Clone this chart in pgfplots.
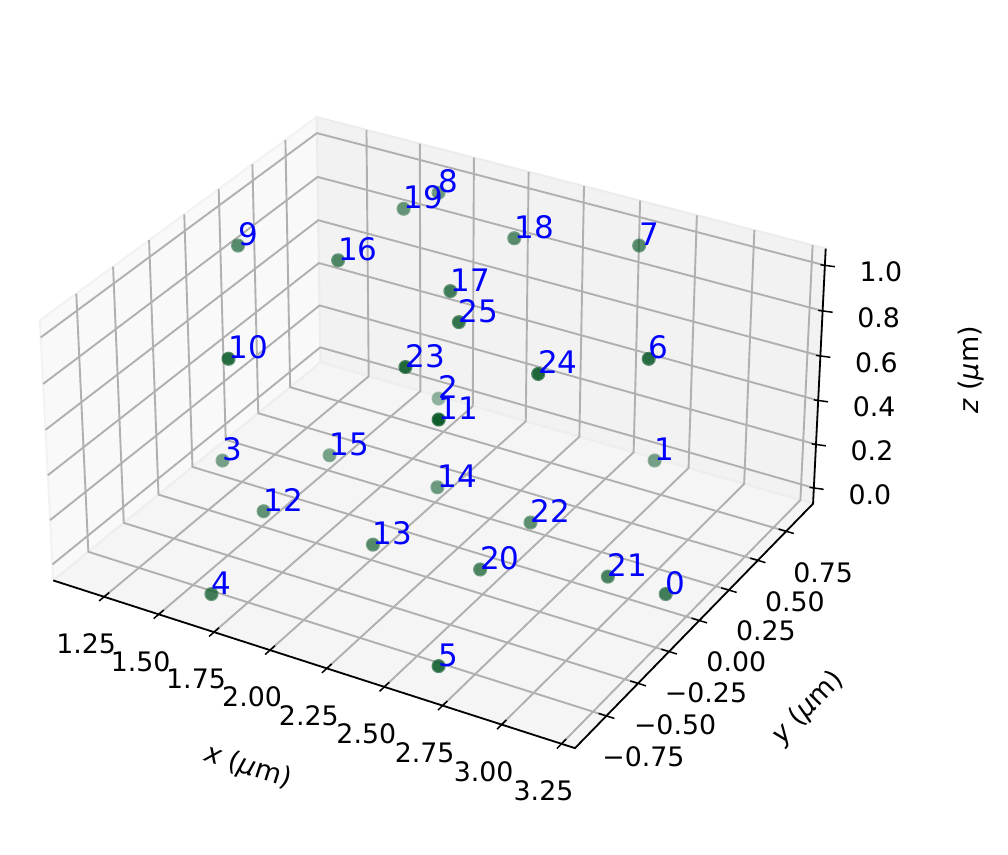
\documentclass[border=0pt]{standalone}
\usepackage{fontspec}
\setmainfont{DejaVu Sans}
\usepackage{pgfplots}
\usepackage{pgfplotstable}
\pgfplotsset{compat=1.18}
\definecolor{ptgreen}{RGB}{15,92,45}
\definecolor{gridc}{RGB}{176,176,176}
\pgfdeclareplotmark{rimdot}{%
  \pgfpathcircle{\pgfpointorigin}{6.0pt}\pgfusepathqfill
  \pgfsetstrokeopacity{\alb}\pgfsetlinewidth{1.2pt}%
  \pgfpathcircle{\pgfpointorigin}{6.5pt}\pgfusepathqstroke}
\pgfplotsset{table/P/.style={
  x expr={pu(\thisrow{x},\thisrow{y},\thisrow{z})},
  y expr={pv(\thisrow{x},\thisrow{y},\thisrow{z})}}}
\pgfplotstableread{
x y z a lab
3.16 0 0 .724 0
2.66 .866 0 .441 1
1.66 .866 0 .30 2
1.16 0 0 .441 3
1.66 -.866 0 .724 4
2.66 -.866 0 .865 5
3.06 0 1 .873 6
2.61 .779 1 .619 7
1.71 .779 1 .491 8
1.26 0 1 .619 9
1.71 -.779 1 .873 10
2.61 -.779 1 1.0 11
1.51 -.25 0 .552 12
2.01 -.25 0 .623 13
2.01 .25 0 .50 14
1.51 .25 0 .43 15
1.66 .09 1 .653 16
2.16 .09 1 .724 17
2.16 .59 1 .601 18
1.66 .59 1 .531 19
2.46 -.2 0 .674 20
2.91 0 0 .689 21
2.46 .2 0 .576 22
2.31 -.505 1 .89 23
2.76 -.305 1 .905 24
2.31 -.107 1 .793 25
}\pts
\pgfplotstableread{
x y z lab
1.25 -.9923 -.0729 1.25
1.50 -.9923 -.0729 1.50
1.75 -.9923 -.0729 1.75
2.00 -.9923 -.0729 2.00
2.25 -.9923 -.0729 2.25
2.50 -.9923 -.0729 2.50
2.75 -.9923 -.0729 2.75
3.00 -.9923 -.0729 3.00
3.25 -.9923 -.0729 3.25
}\xlabs
\pgfplotstableread{
x y z lab
3.3058 -.75 -.0729 −0.75
3.3058 -.50 -.0729 −0.50
3.3058 -.25 -.0729 −0.25
3.3058 0 -.0729 0.00
3.3058 .25 -.0729 0.25
3.3058 .50 -.0729 0.50
3.3058 .75 -.0729 0.75
}\ylabs
\pgfplotstableread{
x y z lab
3.3058 .9923 0 0.0
3.3058 .9923 .2 0.2
3.3058 .9923 .4 0.4
3.3058 .9923 .6 0.6
3.3058 .9923 .8 0.8
3.3058 .9923 1 1.0
}\zlabs
\begin{document}
\begin{tikzpicture}
\path[use as bounding box] (0,0) rectangle (1008pt,854pt);
\begin{axis}[
  at={(0,0)}, anchor=south west, scale only axis, width=1008pt, height=854pt,
  xmin=0, xmax=1008, ymin=0, ymax=854, hide axis, clip=false,
  declare function={
    pw(\x,\y,\z)=10-(0.25461*(\x-2.16)-0.441*\y+0.294*(\z-0.5));
    pu(\x,\y,\z)=438.6+4413*(0.50921*(\x-2.16)+0.294*\y)/pw(\x,\y,\z);
    pv(\x,\y,\z)=439.1+4413*(-0.147*(\x-2.16)+0.25461*\y+0.50921*(\z-0.5))/pw(\x,\y,\z);
  },
  gridl/.style={draw=gridc, line width=1.9pt, mark=none, line join=miter},
  tickl/.style={draw=black, line width=1.5pt, mark=none},
  labs/.style={draw=none, mark=none, point meta=explicit symbolic,
    nodes near coords, nodes near coords align={center},
    nodes near coords style={anchor=center, inner sep=0pt, outer sep=0pt, text=black,
      font=\fontsize{26.8}{30}\selectfont, xshift=#1}},
]
% panes
\addplot[fill=black!2.5, draw=black!5, line width=2pt, mark=none] table[P,row sep=\\]
 {x y z\\ 1.0142 -.9923 -.0729\\ 1.0142 .9923 -.0729\\ 1.0142 .9923 1.0729\\ 1.0142 -.9923 1.0729\\ 1.0142 -.9923 -.0729\\};
\addplot[fill=black!5, draw=black!7.5, line width=2pt, mark=none] table[P,row sep=\\]
 {x y z\\ 1.0142 .9923 -.0729\\ 3.3058 .9923 -.0729\\ 3.3058 .9923 1.0729\\ 1.0142 .9923 1.0729\\ 1.0142 .9923 -.0729\\};
\addplot[fill=black!3.75, draw=black!6.5, line width=2pt, mark=none] table[P,row sep=\\]
 {x y z\\ 1.0142 -.9923 -.0729\\ 3.3058 -.9923 -.0729\\ 3.3058 .9923 -.0729\\ 1.0142 .9923 -.0729\\ 1.0142 -.9923 -.0729\\};
% grid
\pgfplotsinvokeforeach{1.25,1.50,1.75,2.00,2.25,2.50,2.75,3.00,3.25}{
  \addplot[gridl] table[P,row sep=\\] {x y z\\ #1 -.9923 -.0729\\ #1 .9923 -.0729\\ #1 .9923 1.0729\\};
  \addplot[tickl] table[P,row sep=\\] {x y z\\ #1 -1.027 -.0729\\ #1 -.957 -.0729\\};
}
\pgfplotsinvokeforeach{-0.75,-0.50,-0.25,0,0.25,0.50,0.75}{
  \addplot[gridl] table[P,row sep=\\] {x y z\\ 3.3058 #1 -.0729\\ 1.0142 #1 -.0729\\ 1.0142 #1 1.0729\\};
  \addplot[tickl] table[P,row sep=\\] {x y z\\ 3.339 #1 -.0729\\ 3.273 #1 -.0729\\};
}
\pgfplotsinvokeforeach{0,0.2,0.4,0.6,0.8,1.0}{
  \addplot[gridl] table[P,row sep=\\] {x y z\\ 3.3058 .9923 #1\\ 1.0142 .9923 #1\\ 1.0142 -.9923 #1\\};
  \addplot[tickl] table[P,row sep=\\] {x y z\\ 3.344 1.002 #1\\ 3.289 .988 #1\\};
}
% axis edges
\addplot[draw=black, line width=1.8pt, mark=none, line join=miter] table[P,row sep=\\]
 {x y z\\ 1.0142 -.9923 -.0729\\ 3.3058 -.9923 -.0729\\ 3.3058 .9923 -.0729\\ 3.3058 .9923 1.0729\\};
% tick labels
\addplot[labs=0pt, nodes near coords style={xshift=-18pt, yshift=-47pt}] table[P, meta=lab] {\xlabs};
\addplot[labs=0pt, nodes near coords style={xshift=37pt, yshift=-41pt}] table[P, meta=lab] {\ylabs};
\addplot[labs=0pt, nodes near coords style={xshift=56pt, yshift=-6.5pt}] table[P, meta=lab] {\zlabs};
% points
\addplot[scatter, only marks, mark=rimdot,
  point meta=\thisrow{a},
  visualization depends on={\thisrow{a}*0.8+0.2 \as \al},
  visualization depends on={(\thisrow{a}*0.8+0.2)*0.75 \as \alb},
  scatter/@pre marker code/.code={\pgfscope\pgfsetstrokecolor{ptgreen}\pgfsetfillcolor{ptgreen}\pgfsetfillopacity{\al}},
  scatter/@post marker code/.code={\endpgfscope},
] table[P] {\pts};
% point labels
\addplot[draw=none, mark=none, point meta=explicit symbolic, nodes near coords,
  nodes near coords align={anchor=base west},
  nodes near coords style={anchor=base west, inner sep=0pt, outer sep=0pt, text=blue,
    font=\fontsize{31}{34}\selectfont}] table[P, meta=lab] {\pts};
% axis titles
\node[rotate=-17.8, font=\fontsize{27}{30}\selectfont] at (axis cs:248,87) {\textit{x} (\textit{μ}m)};
\node[rotate=46, font=\fontsize{27}{30}\selectfont] at (axis cs:808,146) {\textit{y} (\textit{μ}m)};
\node[rotate=90, font=\fontsize{27}{30}\selectfont] at (axis cs:971,484) {\textit{z} (\textit{μ}m)};
\end{axis}
\end{tikzpicture}
\end{document}
